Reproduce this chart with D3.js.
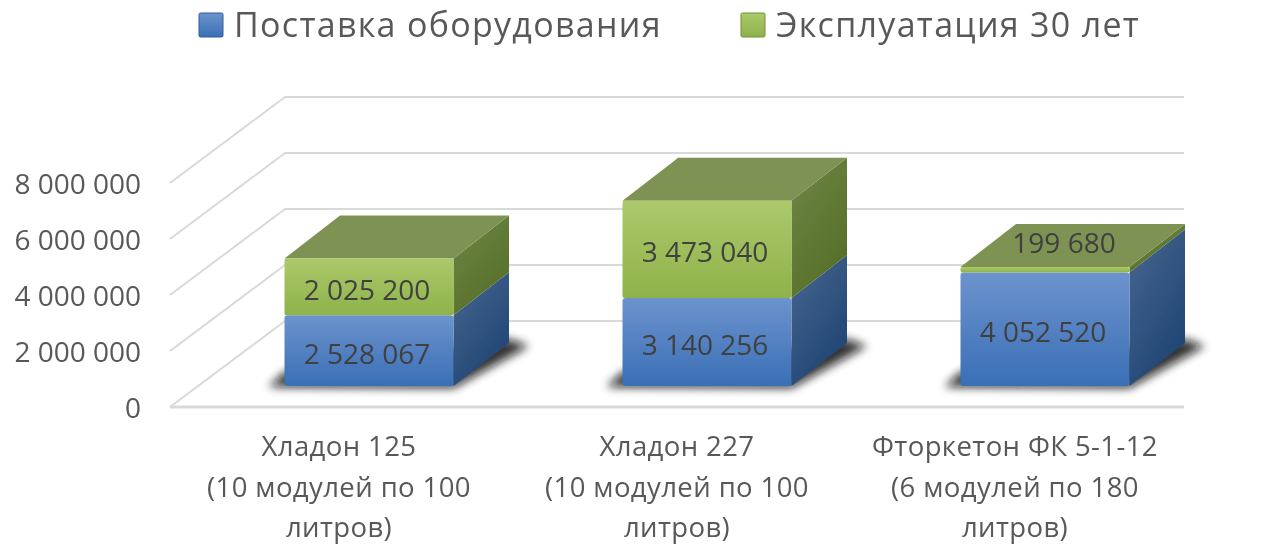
<!DOCTYPE html>
<html>
<head>
<meta charset="utf-8">
<script src="https://d3js.org/d3.v7.min.js"></script>
<style>
  html, body { margin: 0; padding: 0; background: white; }
  svg { display: block; }
  text { font-family: "Open Sans", sans-serif; }
</style>
</head>
<body>
<svg width="1284" height="544"></svg>
<script>
  var categories = [
    ["Хладон 125", "(10 модулей по 100", "литров)"],
    ["Хладон 227", "(10 модулей по 100", "литров)"],
    ["Фторкетон ФК 5-1-12", "(6 модулей по 180", "литров)"]
  ];
  var supply = [2528067, 3140256, 4052520];
  var operation = [2025200, 3473040, 199680];
  var seriesNames = ["Поставка оборудования", "Эксплуатация 30 лет"];
  var yTicks = [0, 2000000, 4000000, 6000000, 8000000];

  var svg = d3.select("svg");
  var defs = svg.append("defs");

  function gradient(id, c1, c2, x2, y2) {
    var g = defs.append("linearGradient").attr("id", id)
      .attr("x1", 0).attr("y1", 0).attr("x2", x2).attr("y2", y2);
    g.append("stop").attr("offset", "0%").attr("stop-color", c1);
    g.append("stop").attr("offset", "100%").attr("stop-color", c2);
  }
  gradient("blueFront", "#6c93cd", "#3a6fb6", 0, 1);
  gradient("blueSide", "#48678f", "#1f4574", 0.6, 1);
  gradient("greenFront", "#abc96a", "#8fb24a", 0, 1);
  gradient("greenSide", "#6f8647", "#566f28", 0.6, 1);

  defs.append("filter").attr("id", "blur")
    .attr("x", "-30%").attr("y", "-50%").attr("width", "160%").attr("height", "200%")
    .append("feGaussianBlur").attr("stdDeviation", 5);
  defs.append("filter").attr("id", "soft")
    .append("feGaussianBlur").attr("stdDeviation", 0.5);

  // front plane of the chart box
  var x = d3.scaleBand().domain(d3.range(categories.length)).range([170, 1184])
    .paddingInner(0.5).paddingOuter(0.25);
  var y = d3.scaleLinear().domain([0, 8000000]).range([407, 183]);

  var wallDx = 115, wallDy = -86;   // floor depth
  var barDx = 30, barDy = -21;      // where the bars stand on the floor
  var topDx = 55.5, topDy = -43;    // depth of a bar

  var chart = svg.append("g").attr("filter", "url(#soft)");

  // grid
  var grid = chart.append("g").attr("fill", "none").attr("stroke", "#d9d9d9").attr("stroke-width", 2);
  grid.selectAll("path").data(yTicks).enter().append("path")
    .attr("d", function(d) {
      return "M170," + y(d) + "L" + (170 + wallDx) + "," + (y(d) + wallDy) + "H1184";
    });
  grid.append("path").attr("d", "M170," + y(0) + "H1184").attr("stroke-width", 3);

  // y axis labels
  var fmt = function(d) { return d3.format(",")(d).replace(/,/g, " "); };
  var yAxis = chart.append("g").attr("transform", "translate(150,2)")
    .call(d3.axisLeft(y).tickValues(yTicks).tickSize(0).tickPadding(9).tickFormat(fmt));
  yAxis.select(".domain").remove();
  yAxis.selectAll("text").attr("fill", "#595959").style("font-size", "28px")
    .style("font-family", "'Open Sans', sans-serif");

  // category labels
  var catLabel = chart.append("g").selectAll("text").data(categories).enter().append("text")
    .attr("text-anchor", "middle").attr("fill", "#595959")
    .style("font-size", "27.5px").style("letter-spacing", "0.4px");
  catLabel.selectAll("tspan").data(function(d, i) {
      return d.map(function(line, k) { return { line: line, k: k, i: i }; });
    }).enter().append("tspan")
    .attr("x", function(d) { return x(d.i) + x.bandwidth() / 2; })
    .attr("y", function(d) { return 456 + d.k * 40.5; })
    .text(function(d) { return d.line; });

  function pts(a) { return a.map(function(p) { return p.join(","); }).join(" "); }

  // bars
  var w = x.bandwidth();
  categories.forEach(function(c, i) {
    var left = x(i) + barDx, right = left + w;
    var base = y(0) + barDy;
    var yMid = y(supply[i]) + barDy;
    var yTop = y(supply[i] + operation[i]) + barDy;
    var g = chart.append("g");

    g.append("polygon").attr("filter", "url(#blur)").attr("fill", "#111").attr("opacity", 0.85)
      .attr("points", pts([[left - 16, base + 1], [right, base + 2],
        [right + topDx + 20, base + topDy + 3], [right + topDx, base + topDy - 4], [left, base - 14]]));

    // blue part
    g.append("polygon").attr("fill", "url(#blueSide)").attr("points", pts([
      [right, yMid], [right + topDx, yMid + topDy], [right + topDx, base + topDy], [right, base]]));
    g.append("rect").attr("x", left).attr("y", yMid).attr("width", w).attr("height", base - yMid)
      .attr("rx", 3).attr("fill", "url(#blueFront)");

    // green part
    g.append("polygon").attr("fill", "url(#greenSide)").attr("points", pts([
      [right, yTop], [right + topDx, yTop + topDy], [right + topDx, yMid + topDy], [right, yMid]]));
    g.append("polygon").attr("fill", "#7e9352").attr("points", pts([
      [left, yTop], [left + topDx, yTop + topDy], [right + topDx, yTop + topDy], [right, yTop]]));
    g.append("rect").attr("x", left).attr("y", yTop).attr("width", w).attr("height", yMid - yTop)
      .attr("rx", 2).attr("fill", "url(#greenFront)");

    // data labels, a thin segment gets its label on the top face
    var cx = left + w / 2 - 2;
    var thin = yMid - yTop < 20;
    g.append("text").attr("class", "val").attr("x", cx).attr("y", (base + yMid) / 2 + 2)
      .text(fmt(supply[i]));
    g.append("text").attr("class", "val").attr("x", thin ? cx + 21 : cx)
      .attr("y", thin ? yTop + topDy / 2 - 3 : (yMid + yTop) / 2 + 2)
      .text(fmt(operation[i]));
  });
  chart.selectAll(".val").attr("text-anchor", "middle").attr("dominant-baseline", "central")
    .attr("fill", "#404040").style("font-size", "28px");

  // legend
  var legendX = [199, 741];
  var legendFill = ["url(#blueFront)", "url(#greenFront)"];
  var legend = chart.append("g").selectAll("g").data(seriesNames).enter().append("g")
    .attr("transform", function(d, i) { return "translate(" + legendX[i] + ",0)"; });
  legend.append("rect").attr("x", 0).attr("y", 13).attr("width", 24).attr("height", 24)
    .attr("rx", 1.5).attr("fill", function(d, i) { return legendFill[i]; })
    .attr("stroke", function(d, i) { return i ? "#6f8f38" : "#2f5c99"; });
  legend.append("text").attr("x", 35).attr("y", 37).attr("fill", "#595959")
    .style("font-size", "34px").style("letter-spacing", "1.3px").text(function(d) { return d; });
</script>
</body>
</html>
